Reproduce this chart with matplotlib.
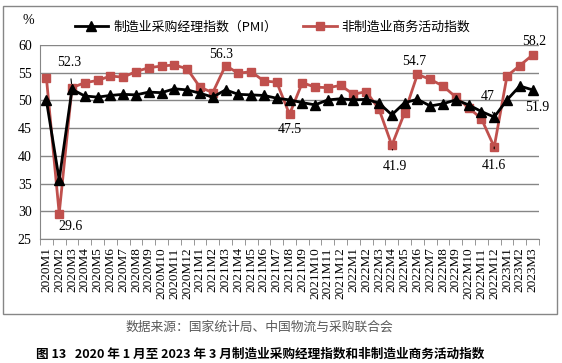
import numpy as np
import matplotlib
matplotlib.use("Agg")
import matplotlib.pyplot as plt
from matplotlib.patches import Rectangle

plt.rcParams['font.family'] = ['Liberation Serif', 'Noto Sans CJK SC', 'DejaVu Sans']

months = (['2020M%d' % m for m in range(1, 13)]
          + ['2021M%d' % m for m in range(1, 13)]
          + ['2022M%d' % m for m in range(1, 13)]
          + ['2023M%d' % m for m in range(1, 4)])

pmi = [50.0, 35.7, 52.0, 50.8, 50.6, 50.9, 51.1, 51.0, 51.5, 51.4, 52.1, 51.9,
       51.3, 50.6, 51.9, 51.1, 51.0, 50.9, 50.4, 50.1, 49.6, 49.2, 50.1, 50.3,
       50.1, 50.2, 49.5, 47.4, 49.6, 50.2, 49.0, 49.4, 50.1, 49.2, 48.0, 47.0,
       50.1, 52.6, 51.9]
non_mfg = [54.1, 29.6, 52.3, 53.2, 53.6, 54.4, 54.2, 55.2, 55.9, 56.2, 56.4, 55.7,
           52.4, 51.4, 56.3, 54.9, 55.2, 53.5, 53.3, 47.5, 53.2, 52.4, 52.3, 52.7,
           51.1, 51.6, 48.4, 41.9, 47.8, 54.7, 53.8, 52.6, 50.6, 48.7, 46.7, 41.6,
           54.4, 56.3, 58.2]

pmi_name = '制造业采购经理指数（PMI）'
non_name = '非制造业商务活动指数'
y_ticks = [25, 30, 35, 40, 45, 50, 55, 60]

# labelled points: (month index, offset in points, leader line?)
pmi_labels = [(35, (-5, 15), True), (38, (3, -13), True)]
non_labels = [(2, (-2, 18), True), (1, (8, -9), False), (14, (-3, 8), False),
              (19, (0, -11), False), (27, (2, -15), True), (29, (-2, 9), False),
              (35, (0, -13), True), (38, (1.5, 10), False)]

fig = plt.figure(figsize=(5.62, 3.63), dpi=100)
ax = fig.add_axes([40 / 562, 1 - 239 / 363, 499 / 562, 194 / 363])

x = np.arange(len(months))
red = '#C0504D'
ax.plot(x, pmi, color='black', lw=2, marker='^', ms=6.5, label=pmi_name, zorder=4)
ax.plot(x, non_mfg, color=red, lw=2, marker='s', ms=5.5, label=non_name, zorder=3)

ax.set_xlim(-0.5, len(months) - 0.5)
ax.set_ylim(25, 60)
ax.set_yticks(y_ticks)
ax.tick_params(axis='y', length=0, labelsize=10, pad=6)
ax.set_xticks(x)
ax.set_xticklabels(months, rotation=90, fontsize=9.5, family='Liberation Serif')
ax.set_xticks(np.arange(-0.5, len(months)), minor=True)
ax.tick_params(axis='x', which='major', length=0, pad=6)
ax.tick_params(axis='x', which='minor', length=4, color='#868686')
ax.grid(axis='y', color='#868686', lw=1)
ax.set_axisbelow(True)
for s in ['top', 'right']:
    ax.spines[s].set_visible(False)
for s in ['left', 'bottom']:
    ax.spines[s].set_color('#868686')

arrow = dict(arrowstyle='-', color='black', lw=0.8, shrinkA=5, shrinkB=3)
for series, labels in [(pmi, pmi_labels), (non_mfg, non_labels)]:
    for i, off, lead in labels:
        v = series[i]
        ax.annotate('%g' % v, (x[i], v), xytext=off, textcoords='offset points',
                    ha='center', va='center', fontsize=10,
                    arrowprops=arrow if lead else None, zorder=6)

fig.text(28 / 562, 1 - 20 / 363, '%', fontsize=10, ha='center', va='center')

fig.legend(loc='center', bbox_to_anchor=(0.485, 1 - 27 / 363), ncol=2,
           frameon=False, prop={'family': ['Noto Sans CJK SC'], 'size': 9.3},
           handlelength=2.6, columnspacing=2.0, handletextpad=0.4)

fig.patches.append(Rectangle((3 / 562, 1 - 314 / 363), 554 / 562, 308 / 363,
                             transform=fig.transFigure, fill=False,
                             edgecolor='#868686', lw=1))

fig.text(259 / 562, 1 - 327 / 363, '数据来源：国家统计局、中国物流与采购联合会',
         fontsize=9.2, color='#595959', ha='center', va='center',
         family=['Noto Sans CJK SC'])
fig.text(260 / 562, 1 - 354 / 363,
         '图 13   2020 年 1 月至 2023 年 3 月制造业采购经理指数和非制造业商务活动指数',
         fontsize=9.1, fontweight='bold', ha='center', va='center',
         family=['Noto Sans CJK SC'])

fig.savefig('out.png', dpi=100)
